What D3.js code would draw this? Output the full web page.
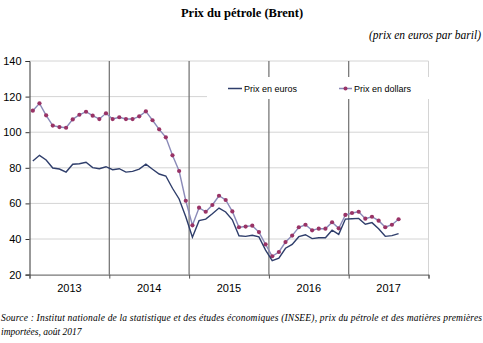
<!DOCTYPE html>
<html>
<head>
<meta charset="utf-8">
<script src="https://cdn.jsdelivr.net/npm/d3@7"></script>
<style>
  body { margin: 0; background: #fff; }
  svg { display: block; }
</style>
</head>
<body>
<div id="chart"></div>
<script>
// années affichées sous l'axe
const years = ["2013", "2014", "2015", "2016", "2017"];
// prix mensuels janv. 2013 - août 2017
const prixEuros = [
  83.8, 87.0, 84.4, 79.9, 79.3, 77.6, 82.0, 82.3, 83.1, 80.1, 79.5, 80.6,
  78.9, 79.5, 77.6, 78.0, 79.3, 82.0, 79.2, 76.5, 75.4, 68.5, 62.5, 52.5,
  41.0, 50.3, 51.2, 54.2, 57.4, 55.2, 50.8, 41.8, 41.5, 42.1, 41.2, 33.8,
  27.8, 29.2, 34.8, 37.0, 41.3, 42.4, 40.2, 40.7, 40.7, 44.9, 42.6, 51.2,
  51.4, 51.6, 48.3, 49.2, 45.8, 41.5, 41.9, 43.0
];
const prixDollars = [
  112.1, 116.2, 109.5, 103.7, 102.9, 102.5, 107.2, 109.8, 111.5, 109.3, 107.4, 110.6,
  107.4, 108.4, 107.4, 107.4, 108.9, 111.7, 106.7, 101.6, 97.1, 87.0, 78.2, 61.5,
  47.7, 57.6, 55.3, 59.1, 64.3, 61.9, 55.5, 46.6, 47.0, 47.5, 43.9, 37.0,
  30.3, 32.7, 38.3, 41.9, 46.6, 48.0, 44.9, 45.8, 45.8, 49.4, 46.0, 53.5,
  54.6, 55.3, 51.4, 52.5, 50.3, 46.6, 48.0, 51.1
];
const yTicks = [20, 40, 60, 80, 100, 120, 140];

const width = 483, height = 343;
const svg = d3.select("#chart").append("svg")
  .attr("width", width).attr("height", height);

// échelles : un pas par mois
const x = d3.scaleLinear().domain([0, 60]).range([29.5, 428.5]);
const y = d3.scaleLinear().domain([20, 140]).range([274.6, 61]);

//titres
svg.append("text")
  .attr("x", 242).attr("y", 17)
  .attr("text-anchor", "middle")
  .style("font-family", "'Liberation Serif', serif")
  .style("font-weight", "bold").style("font-size", "12.5px")
  .text("Prix du pétrole (Brent)");
svg.append("text")
  .attr("x", 481).attr("y", 39)
  .attr("text-anchor", "end")
  .style("font-family", "'Liberation Serif', serif")
  .style("font-style", "italic").style("font-size", "11.5px")
  .text("(prix en euros par baril)");

// grille horizontale
svg.append("g").selectAll("line")
  .data(yTicks.slice(1))
  .enter().append("line")
  .attr("x1", x(0)).attr("x2", x(60))
  .attr("y1", d => y(d)).attr("y2", d => y(d))
  .attr("stroke", "#d4d4d4").attr("stroke-width", 1);

// bord droit
svg.append("line")
  .attr("x1", x(60)).attr("x2", x(60))
  .attr("y1", y(140)).attr("y2", y(20))
  .attr("stroke", "#d4d4d4");

// séparateurs d'années
svg.append("g").selectAll("line")
  .data([12, 24, 36, 48])
  .enter().append("line")
  .attr("x1", d => x(d)).attr("x2", d => x(d))
  .attr("y1", y(140)).attr("y2", y(20))
  .attr("stroke", "#6e6e6e").attr("stroke-width", 1.2);

// légende (fond blanc qui masque la grille)
const leg = svg.append("g");
leg.append("rect")
  .attr("x", 207).attr("y", 77).attr("width", 222).attr("height", 22)
  .attr("fill", "#fff");
leg.append("line")
  .attr("x1", 228).attr("x2", 242).attr("y1", 88.5).attr("y2", 88.5)
  .attr("stroke", "#2f3e6b").attr("stroke-width", 1.5);
leg.append("text")
  .attr("x", 244).attr("y", 91.5)
  .style("font-family", "'Liberation Sans', Arial, sans-serif").style("font-size", "9px")
  .text("Prix en euros");
leg.append("line")
  .attr("x1", 339).attr("x2", 352).attr("y1", 88.5).attr("y2", 88.5)
  .attr("stroke", "#8a8ab8").attr("stroke-width", 1.5);
leg.append("circle")
  .attr("cx", 345.5).attr("cy", 88.5).attr("r", 2)
  .attr("fill", "#993366");
leg.append("text")
  .attr("x", 354).attr("y", 91.5)
  .style("font-family", "'Liberation Sans', Arial, sans-serif").style("font-size", "9px")
  .text("Prix en dollars");

// axe Y
const yAxis = svg.append("g")
  .attr("transform", `translate(${x(0)},0)`)
  .call(d3.axisLeft(y).tickValues(yTicks).tickSize(4).tickPadding(4));
yAxis.select(".domain").attr("stroke", "#333");
yAxis.selectAll(".tick line").attr("stroke", "#333");
yAxis.selectAll("text")
  .style("font-family", "'Liberation Sans', Arial, sans-serif")
  .style("font-size", "11px").attr("fill", "#000");

// axe X : traits aux limites d'années, libellés centrés
const xAxis = svg.append("g")
  .attr("transform", `translate(0,${y(20)})`)
  .call(d3.axisBottom(x).tickValues([0, 12, 24, 36, 48, 60]).tickSize(4).tickFormat(""));
xAxis.select(".domain").attr("stroke", "#555");
xAxis.selectAll(".tick line").attr("stroke", "#555");
svg.append("g").selectAll("text")
  .data(years)
  .enter().append("text")
  .attr("x", (d, i) => x(6 + 12 * i)).attr("y", 292)
  .attr("text-anchor", "middle")
  .style("font-family", "'Liberation Sans', Arial, sans-serif").style("font-size", "11px")
  .text(d => d);

// courbes
const line = d3.line()
  .x((d, i) => x(i + 0.5))
  .y(d => y(d));

svg.append("path")
  .datum(prixDollars)
  .attr("d", line)
  .attr("fill", "none")
  .attr("stroke", "#8a8ab8").attr("stroke-width", 1.4);

svg.append("g").selectAll("circle")
  .data(prixDollars)
  .enter().append("circle")
  .attr("cx", (d, i) => x(i + 0.5))
  .attr("cy", d => y(d))
  .attr("r", 2.1)
  .attr("fill", "#993366");

svg.append("path")
  .datum(prixEuros)
  .attr("d", line)
  .attr("fill", "none")
  .attr("stroke", "#2f3e6b").attr("stroke-width", 1.4);

// source
const src = svg.append("g")
  .style("font-family", "'Liberation Serif', serif")
  .style("font-style", "italic").style("font-size", "9.5px");
src.append("text")
  .attr("x", 1).attr("y", 321)
  .attr("textLength", 481).attr("lengthAdjust", "spacing")
  .text("Source : Institut nationale de la statistique et des études économiques (INSEE), prix du pétrole et des matières premières");
src.append("text")
  .attr("x", 1).attr("y", 335)
  .text("importées, août 2017");
</script>
</body>
</html>
